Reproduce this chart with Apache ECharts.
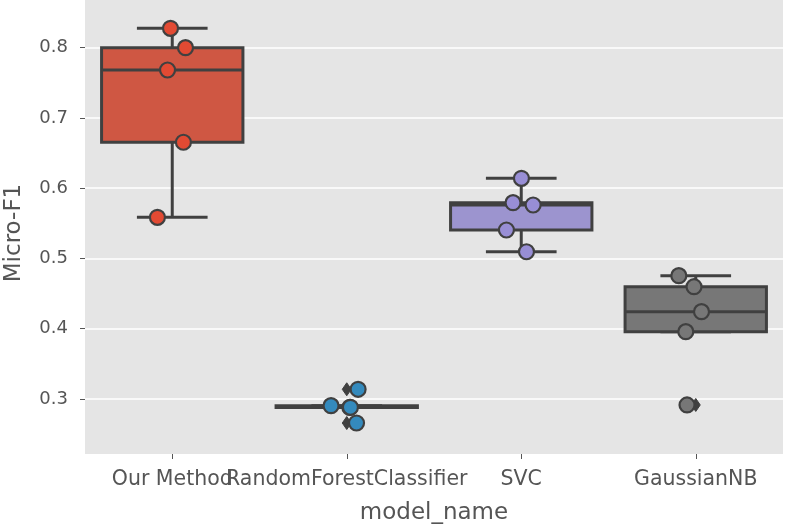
<!DOCTYPE html>
<html>
<head>
<meta charset="utf-8">
<script src="https://cdn.jsdelivr.net/npm/echarts@6/dist/echarts.min.js"></script>
<style>html,body{margin:0;padding:0;background:#fff;}#c{width:786px;height:529px;}</style>
</head>
<body>
<div id="c"></div>
<script>
// ---- data ----
const categories = ['Our Method', 'RandomForestClassifier', 'SVC', 'GaussianNB'];
const ourMethod    = [0.8276, 0.8000, 0.7683, 0.6654, 0.5586];
const randomForest = [0.3138, 0.2905, 0.2880, 0.2882, 0.2658];
const svc          = [0.6141, 0.5794, 0.5761, 0.5405, 0.5096];
const gaussianNB   = [0.4755, 0.4598, 0.4243, 0.3958, 0.2915];
// strip-plot jitter of each point, as a fraction of the category band
const jitterOur = [-0.010, 0.076, -0.027, 0.064, -0.085];
const jitterRF  = [0.065, -0.090, 0.018, 0.021, 0.056];
const jitterSVC = [0.001, -0.047, 0.068, -0.085, 0.030];
const jitterGNB = [-0.097, -0.010, 0.033, -0.057, -0.050];
const yTicks = [0.3, 0.4, 0.5, 0.6, 0.7, 0.8];

// ---- styles ----
const dotColors = ['#E24A33', '#348ABD', '#988ED5', '#777777'];
const boxColors = ['#CF5743', '#4586AC', '#9C94CF', '#777777'];
const edge = '#404040';
const FONT = 'DejaVu Sans';

const groups = [ourMethod, randomForest, svc, gaussianNB];
const jitters = [jitterOur, jitterRF, jitterSVC, jitterGNB];

function quantile(a, p) {
  const h = (a.length - 1) * p, lo = Math.floor(h), hi = Math.ceil(h);
  return a[lo] + (a[hi] - a[lo]) * (h - lo);
}
const boxData = [], flierData = [], dotData = [];
groups.forEach((vals, i) => {
  const s = vals.slice().sort((a, b) => a - b);
  const q1 = quantile(s, 0.25), med = quantile(s, 0.5), q3 = quantile(s, 0.75);
  const iqr = q3 - q1;
  const inside = s.filter(v => v >= q1 - 1.5 * iqr && v <= q3 + 1.5 * iqr);
  const low = Math.min(...inside), high = Math.max(...inside);
  boxData.push([i, low, q1, med, q3, high]);
  s.forEach(v => { if (v < low || v > high) flierData.push([i, v]); });
  vals.forEach((v, k) => dotData.push([i, v, jitters[i][k]]));
});

const chart = echarts.init(document.getElementById('c'), null, {renderer: 'canvas'});
const BOXW = 0.81;

chart.setOption({
  animation: false,
  backgroundColor: '#ffffff',
  grid: {left: 85, right: 3, top: 0, bottom: 75, show: true, backgroundColor: '#E5E5E5', borderWidth: 0,
    containLabel: false, outerBoundsMode: 'none'},
  xAxis: {
    type: 'category', data: categories, boundaryGap: true,
    name: 'model_name', nameLocation: 'middle', nameGap: 48,
    nameTextStyle: {fontFamily: FONT, fontSize: 23, color: '#555555'},
    axisLine: {show: false},
    axisTick: {show: true, alignWithLabel: true, length: 5, lineStyle: {color: '#555555', width: 1}},
    axisLabel: {interval: 0, fontFamily: FONT, fontSize: 20.5, color: '#555555', margin: 15},
    splitLine: {show: false}
  },
  yAxis: {
    type: 'value', min: 0.2217, max: 0.8679,
    name: 'Micro-F1', nameLocation: 'middle', nameGap: 59, nameRotate: 90,
    nameTextStyle: {fontFamily: FONT, fontSize: 23, color: '#555555', padding: [0, 12, 0, 0]},
    axisLine: {show: false},
    axisTick: {show: true, length: 5, customValues: yTicks, lineStyle: {color: '#555555', width: 1}},
    axisLabel: {customValues: yTicks, fontFamily: FONT, fontSize: 18, color: '#555555', margin: 17,
      formatter: v => v.toFixed(1)},
    splitLine: {show: true, lineStyle: {color: '#ffffff', width: 1.5}}
  },
  series: [
    {
      type: 'custom', name: 'box', data: boxData,
      encode: {x: 0, y: [1, 2, 3, 4, 5]},
      renderItem: (params, api) => {
        const i = api.value(0);
        const band = api.size([1, 0])[0];
        const hw = band * BOXW / 2, cw = hw / 2;
        const pLow = api.coord([i, api.value(1)]);
        const pQ1 = api.coord([i, api.value(2)]);
        const pMed = api.coord([i, api.value(3)]);
        const pQ3 = api.coord([i, api.value(4)]);
        const pHigh = api.coord([i, api.value(5)]);
        const cx = pQ1[0];
        const ls = {stroke: edge, lineWidth: 3, fill: null};
        return {
          type: 'group',
          children: [
            {type: 'line', shape: {x1: cx, y1: pQ1[1], x2: cx, y2: pLow[1]}, style: ls},
            {type: 'line', shape: {x1: cx, y1: pQ3[1], x2: cx, y2: pHigh[1]}, style: ls},
            {type: 'line', shape: {x1: cx - cw, y1: pLow[1], x2: cx + cw, y2: pLow[1]}, style: ls},
            {type: 'line', shape: {x1: cx - cw, y1: pHigh[1], x2: cx + cw, y2: pHigh[1]}, style: ls},
            {type: 'rect', shape: {x: cx - hw, y: pQ3[1], width: 2 * hw, height: pQ1[1] - pQ3[1]},
              style: {fill: boxColors[i], stroke: edge, lineWidth: 3}},
            {type: 'line', shape: {x1: cx - hw, y1: pMed[1], x2: cx + hw, y2: pMed[1]}, style: ls}
          ]
        };
      },
      z: 2
    },
    {
      type: 'custom', name: 'fliers', data: flierData,
      encode: {x: 0, y: 1},
      renderItem: (params, api) => {
        const p = api.coord([api.value(0), api.value(1)]);
        const w = 4.5, h = 6.5;
        return {type: 'polygon',
          shape: {points: [[p[0], p[1] - h], [p[0] + w, p[1]], [p[0], p[1] + h], [p[0] - w, p[1]]]},
          style: {fill: edge, stroke: edge, lineWidth: 1}};
      },
      z: 3
    },
    {
      type: 'custom', name: 'strip', data: dotData,
      encode: {x: 0, y: 1},
      renderItem: (params, api) => {
        const i = api.value(0);
        const band = api.size([1, 0])[0];
        const p = api.coord([i, api.value(1)]);
        return {type: 'circle', shape: {cx: p[0] + api.value(2) * band, cy: p[1], r: 7.5},
          style: {fill: dotColors[i], stroke: edge, lineWidth: 2.2}};
      },
      z: 4
    }
  ]
});
</script>
</body>
</html>
